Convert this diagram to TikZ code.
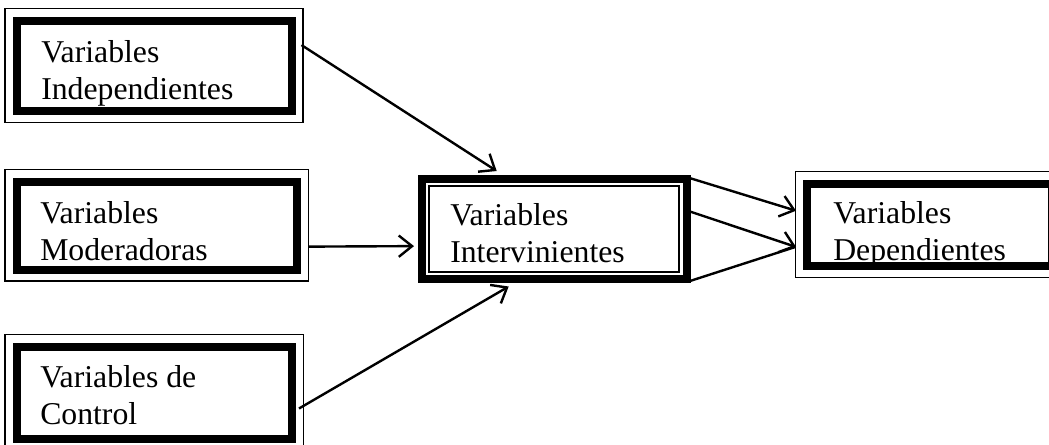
\documentclass[tikz,border=0pt]{standalone}
\usepackage{fontspec}
\setmainfont{Liberation Serif}
\usetikzlibrary{arrows.meta,calc,fit}
\begin{document}
\begin{tikzpicture}[x=0.75pt,y=-0.75pt,
  heavybox/.style={draw, line width=6pt, inner sep=0pt},
  hairframe/.style={draw, line width=1.1pt},
  boxtext/.style={anchor=base west, align=left, inner sep=0pt,
    font=\fontsize{23.8}{27.5}\selectfont},
  link/.style={line width=1.8pt, -{Straight Barb[length=10pt,width=16pt]}},
  plainlink/.style={line width=1.8pt}]
\useasboundingbox (0,0) rectangle (1049,444);

% texts first (anchored on the baseline of the second line), so borders overlay descenders
\node[boxtext] (ind-t) at (41,99) {Variables\\Independientes};
\node[boxtext] (mod-t) at (40,260) {Variables\\Moderadoras};
\node[boxtext] (con-t) at (40,424) {Variables de\\Control};
\node[boxtext] (mid-t) at (450,262) {Variables\\Intervinientes};
\node[boxtext] (dep-t) at (833,260) {Variables\\Dependientes};

% boxes: heavy border, thin frame outside (or inside for the middle one)
\node[heavybox, fit={(17,20.5) (291.5,111)}] (ind) {};
\draw[hairframe] ([shift={(-8,-8)}]ind.north west) rectangle ([shift={(7.5,7.5)}]ind.south east);
\node[heavybox, fit={(17,181.5) (296.5,269.5)}] (mod) {};
\draw[hairframe] ([shift={(-8,-8)}]mod.north west) rectangle ([shift={(8,7.5)}]mod.south east);
\node[heavybox, fit={(17,346.5) (292,438.5)}] (con) {};
\draw[hairframe] ([shift={(-8,-8)}]con.north west) rectangle ([shift={(7.5,7.5)}]con.south east);
\node[heavybox, fit={(421.5,178.5) (686.5,279)}] (mid) {};
\draw[hairframe] (429,186) rectangle (679,272);
\node[heavybox, fit={(806.5,183.5) (1052,266)}] (dep) {};
\draw[hairframe] ([shift={(-7,-8)}]dep.north west) rectangle ([shift={(8,7.5)}]dep.south east);

% connectors
\draw[link] ($(ind.north east)!0.29!(ind.south east)+(6,0)$) -- ($(mid.north west)!0.29!(mid.north east)+(0,-3.5)$);
\draw[link] ($(mod.north east)!0.72!(mod.south east)+(8,0)$) -- ($(mid.north west)!0.66!(mid.south west)+(-3.5,0)$);
\draw[link] ($(con.north east)!0.66!(con.south east)+(3,0)$) -- ($(mid.south west)!0.334!(mid.south east)+(0,3.5)$);
\draw[link] ($(mid.north east)!0.035!(mid.south east)$) -- ($(dep.north west)!0.345!(dep.south west)+(-6.5,0)$);
\draw[link] ($(mid.north east)!0.343!(mid.south east)$) -- ($(dep.north west)!0.745!(dep.south west)+(-6.5,0)$);
\draw[plainlink] ($(mid.north east)!0.98!(mid.south east)$) -- ($(dep.north west)!0.745!(dep.south west)+(-7,0)$);
\end{tikzpicture}
\end{document}
